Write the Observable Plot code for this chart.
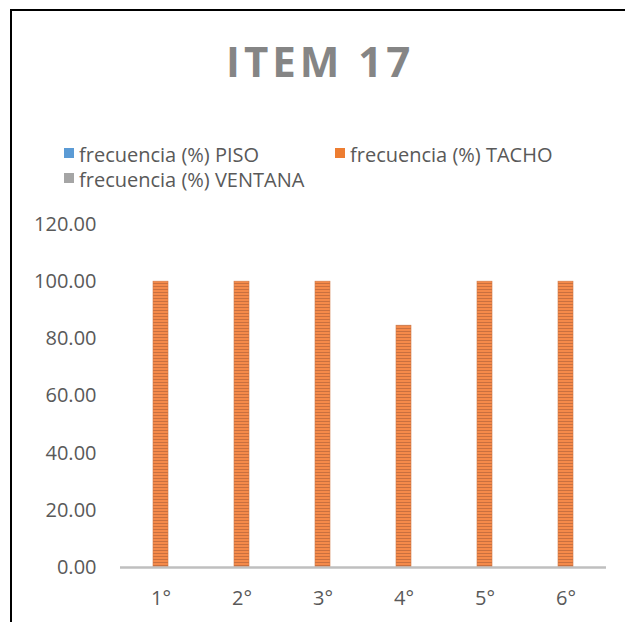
<!DOCTYPE html>
<html><head><meta charset="utf-8">
<script src="https://cdn.jsdelivr.net/npm/d3@7"></script>
<script src="https://cdn.jsdelivr.net/npm/@observablehq/plot@0.6"></script>
<style>
body{margin:0;background:#fff;}
#wrap{position:relative;width:625px;height:622px;overflow:hidden;font-family:"Open Sans",sans-serif;background:#fff;}
#frame{position:absolute;left:10px;top:9px;width:700px;height:700px;border-top:2px solid #000;border-left:2px solid #000;}
#head{position:absolute;left:0;top:0;}
#chart{position:absolute;left:0;top:200px;}
</style></head><body>
<div id="wrap"><div id="frame"></div><svg id="head" width="625" height="200"></svg><div id="chart"></div></div>
<script>
const title = "ITEM 17";
const categories = ["1°","2°","3°","4°","5°","6°"];
const series = ["frecuencia (%) PISO","frecuencia (%) TACHO","frecuencia (%) VENTANA"];
const piso = [0,0,0,0,0,0];
const tacho = [100,100,100,84.6,100,100];
const ventana = [0,0,0,0,0,0];
const yTicks = [0,20,40,60,80,100,120];
const colors = ["#5B9BD5","#ED7D31","#A5A5A5"];

const values = [piso, tacho, ventana];
const data = categories.flatMap((c,i)=>series.map((s,j)=>({cat:c, s, v:values[j][i]})));

const plot = Plot.plot({
  width:625, height:422,
  marginLeft:119, marginRight:18, marginTop:24, marginBottom:55,
  style:{fontFamily:"'Open Sans', sans-serif", fontSize:"20px", color:"#595959", background:"transparent", overflow:"visible"},
  fx:{domain:categories, padding:0, label:null, axis:"bottom", tickSize:0, tickPadding:23},
  x:{domain:series, axis:null, paddingInner:0, paddingOuter:1.05},
  y:{domain:[0,120], ticks:yTicks, tickFormat:d3.format(".2f"), tickSize:0, tickPadding:24, label:null},
  marks:[
    Plot.barY(data.filter(d=>d.s!==series[1]), {fx:"cat", x:"s", y:"v", fill:d=>colors[series.indexOf(d.s)]}),
    Plot.barY(data.filter(d=>d.s===series[1]), {fx:"cat", x:"s", y:"v", fill:"url(#stripes)", stroke:"#d07a48", strokeWidth:0.6}),
    Plot.ruleY([0], {stroke:"#bfbfbf", strokeWidth:2.6})
  ]
});
const defs = d3.select(plot).insert("defs", ":first-child");
const pat = defs.append("pattern").attr("id","stripes").attr("patternUnits","userSpaceOnUse").attr("width",4).attr("height",3);
pat.append("rect").attr("width",4).attr("height",3).attr("fill","#F58A4A");
pat.append("rect").attr("y",2).attr("width",4).attr("height",1).attr("fill","#C9703F");
document.getElementById("chart").appendChild(plot);

// header: title + legend
const head = d3.select("#head");
head.append("text").attr("x",226).attr("y",77).attr("font-size",42).attr("font-weight","bold")
  .attr("letter-spacing",4).attr("fill","#858585").attr("font-family","'Open Sans', sans-serif").text(title);
const legendPos = [[64,162],[335,162],[64,187]];
series.forEach((s,i)=>{
  const [x,y] = legendPos[i];
  head.append("rect").attr("x",x).attr("y",y-14).attr("width",10).attr("height",10).attr("fill",colors[i]);
  head.append("text").attr("x",x+15).attr("y",y).attr("font-size",20).attr("fill","#595959")
    .attr("font-family","'Open Sans', sans-serif").text(s);
});
</script>
</body></html>
